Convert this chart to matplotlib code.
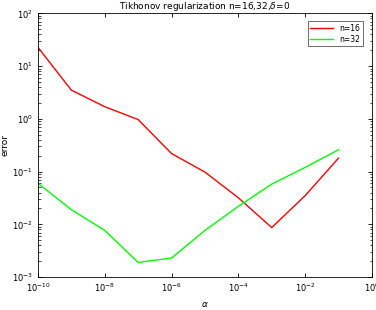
import matplotlib
matplotlib.use('Agg')
import matplotlib.pyplot as plt

alpha = [1e-10, 1e-9, 1e-8, 1e-7, 1e-6, 1e-5, 1e-4, 1e-3, 1e-2, 1e-1]
err16 = [22.6, 3.5, 1.7, 0.97, 0.22, 0.098, 0.032, 0.0087, 0.035, 0.18]
err32 = [0.06, 0.019, 0.0077, 0.0019, 0.0023, 0.0077, 0.022, 0.058, 0.12, 0.26]

fig = plt.figure(figsize=(3.76, 3.10), dpi=100)
ax = fig.add_axes([0.101, 0.106, 0.888, 0.851])

ax.loglog(alpha, err16, color='#ff0000', lw=1.0, label='n=16')
ax.loglog(alpha, err32, color='#00ff00', lw=1.0, label='n=32')

ax.set_xlim(1e-10, 1)
ax.set_ylim(1e-3, 1e2)
ax.set_xticks([1e-10, 1e-8, 1e-6, 1e-4, 1e-2, 1])
ax.set_yticks([1e-3, 1e-2, 1e-1, 1, 1e1, 1e2])
ax.tick_params(which='both', direction='in', top=True, right=True, labelsize=6)
ax.tick_params(which='major', length=3, width=0.6)
ax.tick_params(which='minor', length=1.8, width=0.5)
for s in ax.spines.values():
    s.set_linewidth(0.6)

ax.set_title(r'Tikhonov regularization n=16,32,$\delta$=0', fontsize=6.5, pad=2)
ax.set_xlabel(r'$\alpha$', fontsize=6.5)
ax.set_ylabel('error', fontsize=6.5)
ax.yaxis.set_label_coords(-0.085, 0.5)

leg = ax.legend(loc='upper right', fontsize=5.5, fancybox=False, edgecolor='black',
                handlelength=3, borderpad=0.35, labelspacing=0.25,
                bbox_to_anchor=(0.985, 0.985))
leg.get_frame().set_linewidth(0.5)

fig.savefig('out.png', dpi=100)
